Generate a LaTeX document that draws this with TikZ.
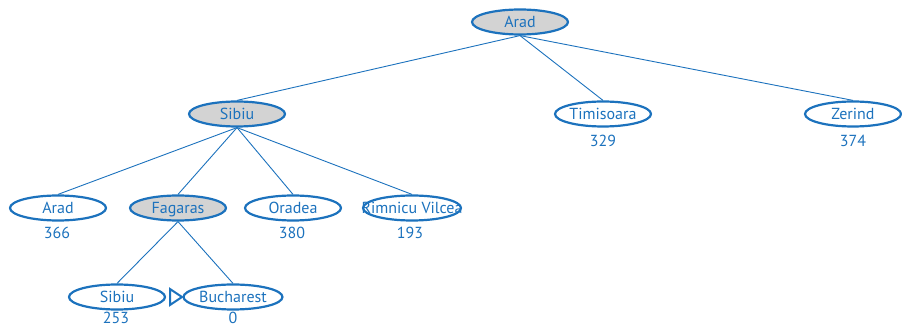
\documentclass[tikz,border=0pt]{standalone}
\usepackage{fontspec}
\setmainfont{PT Sans}
\usetikzlibrary{shapes.geometric}
\definecolor{aiblue}{RGB}{28,114,189}
\definecolor{aigray}{RGB}{211,211,211}
\tikzset{
  city/.style={ellipse, draw=aiblue, line width=2.2pt, minimum width=96pt, minimum height=25pt,
    inner sep=0pt, text=aiblue, font=\fontsize{16}{17}\selectfont, text height=10.5pt, text depth=0pt},
  expanded/.style={city, fill=aigray},
  hval/.style={text=aiblue, font=\fontsize{16}{17}\selectfont, inner sep=0pt, text height=11pt, text depth=0pt},
  edge/.style={draw=aiblue, line width=0.9pt},
}
\newcommand{\nm}[1]{\makebox[0pt]{#1}}
\begin{document}
\begin{tikzpicture}[x=1pt,y=-1pt]
\useasboundingbox (0,0) rectangle (902,328);
% level 0
\node[expanded] (arad) at (520,22) {\nm{Arad}};
% level 1
\node[expanded] (sibiu) at (237,114) {\nm{Sibiu}};
\node[city] (timisoara) at (603,114) {\nm{Timisoara}};
\node[city] (zerind) at (853,114) {\nm{Zerind}};
\node[hval] (htim) at (603,141) {329};
\node[hval] (hzer) at (853,141) {374};
% level 2
\node[city] (arad2) at (58,208) {\nm{Arad}};
\node[expanded] (fagaras) at (178,208) {\nm{Fagaras}};
\node[city] (oradea) at (293,208) {\nm{Oradea}};
\node[city, minimum width=98pt] (rimnicu) at (412,208) {\nm{Rimnicu Vilcea}};
\node[hval] (harad) at (57,233) {366};
\node[hval] (hora) at (292,233) {380};
\node[hval] (hrim) at (410,233) {193};
% level 3
\node[city] (sibiu2) at (117,297) {\nm{Sibiu}};
\node[city, minimum width=99pt] (bucharest) at (233,297) {\nm{Bucharest}};
\node[hval] (hsib) at (116,318.5) {253};
\node[hval] (hbuc) at (233,318.5) {0};
% marker
\draw[aiblue, line width=2pt, line join=miter] (170,289) -- (182,297) -- (170,305) -- cycle;
% edges
\draw[edge] (arad.south) -- (sibiu.north);
\draw[edge] (arad.south) -- (timisoara.north);
\draw[edge] (arad.south) -- (zerind.north);
\draw[edge] (sibiu.south) -- (arad2.north);
\draw[edge] (sibiu.south) -- (fagaras.north);
\draw[edge] (sibiu.south) -- (oradea.north);
\draw[edge] (sibiu.south) -- (rimnicu.north);
\draw[edge] (fagaras.south) -- (sibiu2.north);
\draw[edge] (fagaras.south) -- (bucharest.north);
\end{tikzpicture}
\end{document}
